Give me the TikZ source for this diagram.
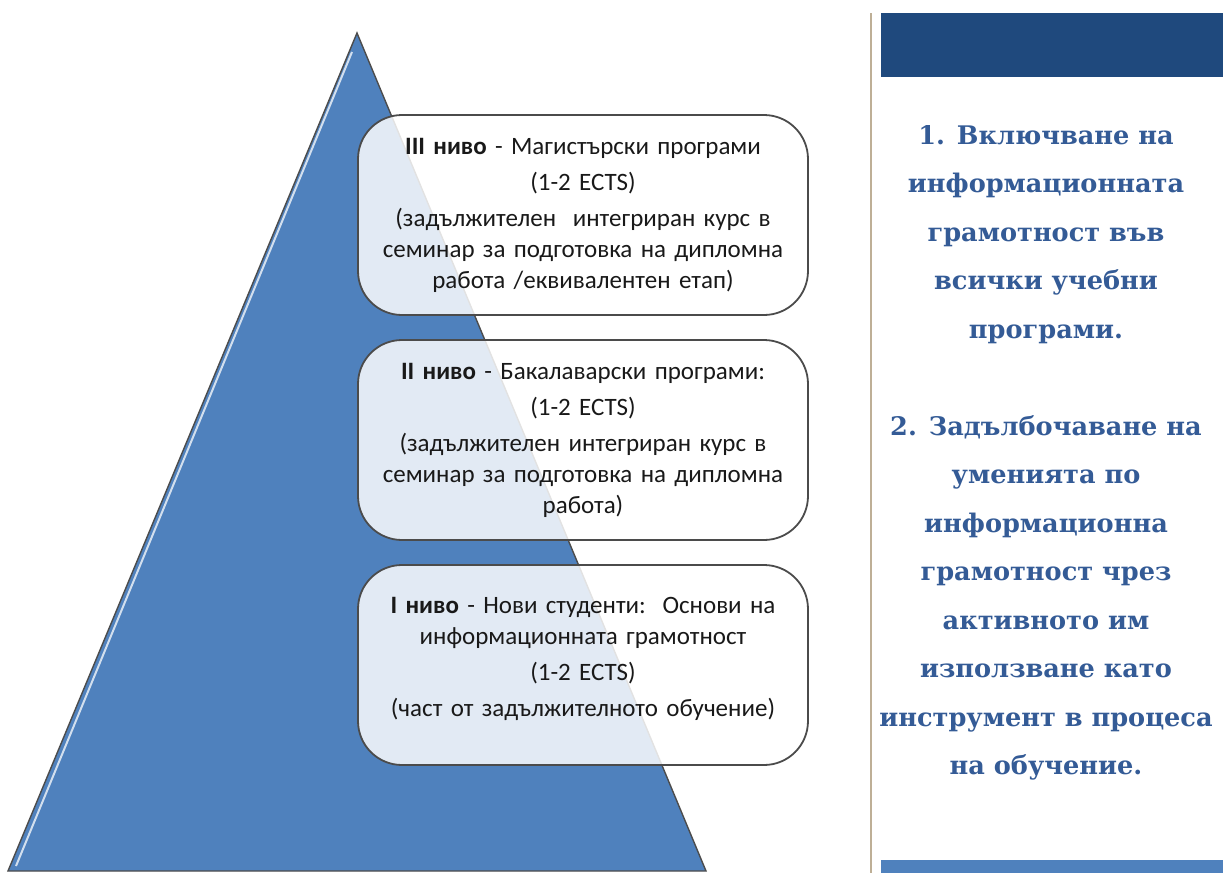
\documentclass[tikz,border=0pt]{standalone}
\usepackage{fontspec}
\setmainfont{Carlito}
\newfontfamily\goalfont{DejaVu Serif}
\usetikzlibrary{positioning}

\definecolor{pyrblue}{RGB}{79,129,189}
\definecolor{headblue}{RGB}{31,73,125}
\definecolor{goalblue}{RGB}{52,91,150}
\definecolor{frameline}{RGB}{190,175,150}
\definecolor{boxedge}{RGB}{75,75,75}

\begin{document}
\begin{tikzpicture}[
    x=0.5pt, y=-0.5pt,
    every node/.style={font=\fontsize{12.5}{15.5}\selectfont, text=black!90},
    levelbox/.style={draw=boxedge, line width=0.9pt, fill=white, fill opacity=0.84, text opacity=1,
        rounded corners=22pt, minimum width=225pt, minimum height=100pt, align=center, text width=215pt},
    goals/.style={font=\goalfont\bfseries\fontsize{12.8}{24.25}\selectfont, text=goalblue, align=center},
    bar/.style={inner sep=0pt, anchor=north west, minimum width=171pt}
]
\useasboundingbox (0,0) rectangle (1223,873);

% pyramid
\coordinate (apex) at (357,33);
\coordinate (baseL) at (8,871);
\coordinate (baseR) at (706,871);
\draw[fill=pyrblue, draw=black!70, line width=0.7pt] (apex) -- (baseR) -- (baseL) -- cycle;
\draw[white, opacity=0.75, line width=1pt] (352,52) -- (16,866);

% levels
\node[levelbox] (L3) at (583,215) {{\bfseries III ниво} - Магистърски програми\\[2.5pt]
    (1-2 ECTS)\\[2.5pt]
    (задължителен\ \ интегриран курс в\\ семинар за подготовка на дипломна\\ работа /еквивалентен етап)};
\node[levelbox] (L2) at (583,440) {{\bfseries II ниво} - Бакалаварски програми:\\[2.5pt]
    (1-2 ECTS)\\[2.5pt]
    (задължителен интегриран курс в\\ семинар за подготовка на дипломна\\ работа)};
\node[levelbox] (L1) at (583,665) {{\bfseries I ниво} - Нови студенти:\ \ Основи на\\ информационната грамотност\\[2.5pt]
    (1-2 ECTS)\\[2.5pt]
    (част от задължителното обучение)\\[-7pt]\mbox{}};

% side panel
\draw[frameline, line width=1pt] (871,13) -- (871,873);
\node[bar, fill=headblue, minimum height=32pt] (header) at (881,13) {};
\node[bar, fill=pyrblue, minimum height=6.5pt] (footer) at (881,860) {};
\node[goals] (G) at (1046,453) {1. Включване на\\ информационната\\ грамотност във\\ всички учебни\\ програми.\\[24.25pt]
    2. Задълбочаване на\\ уменията по\\ информационна\\ грамотност чрез\\ активното им\\ използване като\\ инструмент в процеса\\ на обучение.};

\end{tikzpicture}
\end{document}
